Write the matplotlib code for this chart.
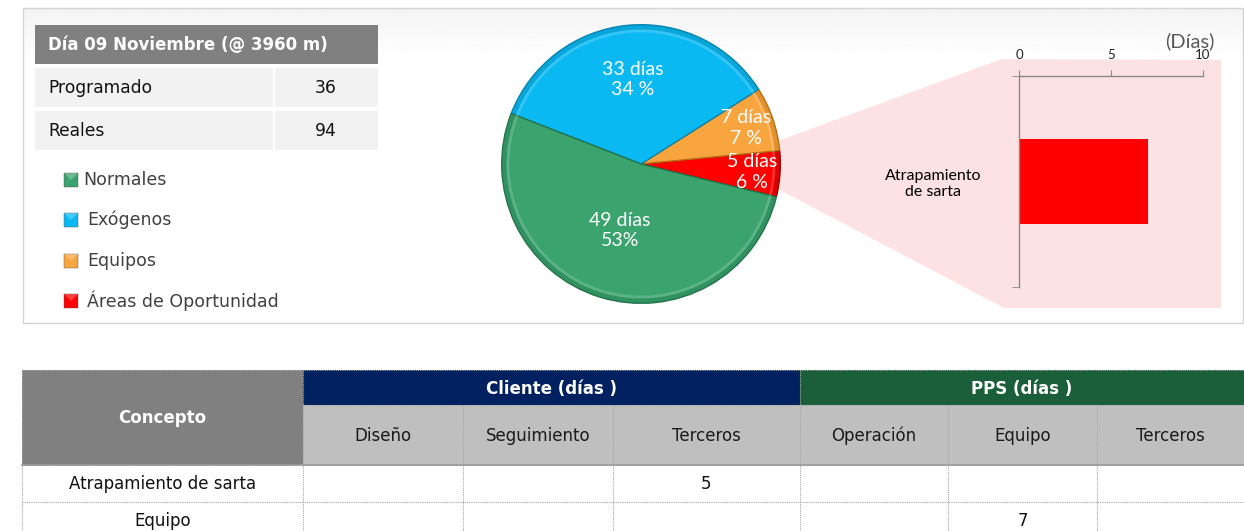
import numpy as np
import matplotlib
matplotlib.use("Agg")
import matplotlib.pyplot as plt
from matplotlib.patches import Rectangle, Polygon, Wedge

# ---------------- data ----------------
header_title = "Día 09 Noviembre (@ 3960 m)"
summary_labels = ["Programado", "Reales"]
summary_values = [36, 94]

categories = ["Normales", "Exógenos", "Equipos", "Áreas de Oportunidad"]
dias = [49, 33, 7, 5]
pct_labels = ["53%", "34 %", "7 %", "6 %"]
cat_colors = ["#3aa36e", "#0ab9f2", "#f9a53f", "#ff0000"]

bar_categories = ["Atrapamiento\nde sarta"]
bar_values = [7]
bar_ticks = [0, 5, 10]

group_headers = ["Cliente (días )", "PPS (días )"]
sub_headers = ["Diseño", "Seguimiento", "Terceros", "Operación", "Equipo", "Terceros"]
row_labels = ["Atrapamiento de sarta", "Equipo"]
table_values = [[None, None, 5, None, None, None],
                [None, None, None, None, 7, None]]

# ---------------- figure ----------------
W, H = 1244, 531
fig = plt.figure(figsize=(W / 100, H / 100), dpi=100)
bg = fig.add_axes([0, 0, 1, 1], zorder=0)
bg.set_xlim(0, W)
bg.set_ylim(H, 0)
bg.axis("off")

FONT = "DejaVu Sans"
FONT2 = "Lato"

# top panel
grad = np.linspace(0.955, 1.0, 50).reshape(-1, 1)
bg.imshow(grad, cmap="gray", vmin=0, vmax=1, extent=[24, 1243, 60, 9], aspect="auto", zorder=0)
bg.add_patch(Rectangle((23, 8), 1220, 315, facecolor="none", edgecolor="#d4d4d4", lw=1, zorder=1))

# summary table
bg.add_patch(Rectangle((35, 25), 343, 39, facecolor="#808080", edgecolor="none", zorder=2))
bg.text(48, 45, header_title, color="white", fontsize=12, fontweight="bold",
        family=FONT, va="center", ha="left", zorder=3)
row_tops = [68, 111]
for top, lab, val in zip(row_tops, summary_labels, summary_values):
    bg.add_patch(Rectangle((35, top), 238, 39, facecolor="#f2f2f2", edgecolor="none", zorder=2))
    bg.add_patch(Rectangle((275, top), 103, 39, facecolor="#f2f2f2", edgecolor="none", zorder=2))
    bg.text(48, top + 20, lab, fontsize=12.3, family=FONT, va="center", ha="left", color="#111111", zorder=3)
    bg.text(326, top + 20, str(val), fontsize=12.3, family=FONT, va="center", ha="center", color="#111111", zorder=3)

# legend
leg_y = [180, 220, 261, 301]
for y, lab, col in zip(leg_y, categories, cat_colors):
    bg.add_patch(Rectangle((64, y - 7), 14, 14, facecolor=col, edgecolor="#555555", lw=0.3, zorder=3))
    bg.add_patch(Polygon([(64, y - 7), (78, y - 7), (71, y)], closed=True,
                         facecolor="white", alpha=0.25, edgecolor="none", zorder=4))
    bg.text(83 if lab == "Normales" else 87, y, lab, fontsize=12.5, family=FONT,
            va="center", ha="left", color="#404040", zorder=3)

# zoom funnel (pink)
bg.add_patch(Polygon([(778, 141), (1002, 59), (1221, 60), (1221, 308), (1004, 308), (778, 189)],
                     closed=True, facecolor="#fde2e3", edgecolor="none", zorder=1))
bg.text(1190, 41, "(Días)", fontsize=14.5, family=FONT2, color="#595959", ha="center", va="center", zorder=3)

# ---------------- pie ----------------
cx, cy, R = 641, 164, 140
pie_ax = fig.add_axes([(cx - R) / W, (H - cy - R) / H, 2 * R / W, 2 * R / H], zorder=2)
pie_vals = dias[::-1]
pie_cols = cat_colors[::-1]
pie_txt = [f"{d} días\n{p}" for d, p in zip(dias, pct_labels)][::-1]
edge_cols = ["#a00000", "#b86e10", "#0785b0", "#23744b"]
wedges, _ = pie_ax.pie(pie_vals, colors=pie_cols, startangle=-13.6, counterclock=True,
                       radius=1.0, wedgeprops=dict(edgecolor="none"))
for w, ec in zip(wedges, edge_cols):
    w.set_edgecolor(ec)
    w.set_linewidth(1.0)
    # bevel rim
    pie_ax.add_patch(Wedge((0, 0), 1.0, w.theta1, w.theta2, width=0.035,
                           facecolor=ec, alpha=0.35, edgecolor="none"))
    pie_ax.add_patch(Wedge((0, 0), 0.965, w.theta1, w.theta2, width=0.02,
                           facecolor="white", alpha=0.18, edgecolor="none"))
dists = [0.8, 0.8, 0.61, 0.5]
for w, t, d in zip(wedges, pie_txt, dists):
    ang = np.deg2rad((w.theta1 + w.theta2) / 2)
    pie_ax.text(d * np.cos(ang), d * np.sin(ang), t, ha="center", va="center",
                color="white", fontsize=14, family=FONT2, linespacing=1.25)
pie_ax.set_xlim(-1.005, 1.005)
pie_ax.set_ylim(-1.005, 1.005)
pie_ax.set_aspect("auto")

# ---------------- bar (zoom) ----------------
x0, x1, y0, y1 = 1019, 1203, 76, 287
bar_ax = fig.add_axes([x0 / W, (H - y1) / H, (x1 - x0) / W, (y1 - y0) / H], zorder=2)
bar_ax.patch.set_alpha(0)
bar_ax.barh(range(len(bar_values)), bar_values, height=0.4, color="#ff0000")
bar_ax.set_xlim(0, 10)
bar_ax.set_ylim(0.5, -0.5)
bar_ax.xaxis.tick_top()
bar_ax.set_xticks(bar_ticks)
bar_ax.set_xticklabels([str(t) for t in bar_ticks], fontsize=9.5, family=FONT2, color="#222222")
bar_ax.tick_params(axis="x", length=4, color="#888888", pad=7)
bar_ax.set_yticks(range(len(bar_categories)))
bar_ax.set_yticklabels(bar_categories, fontsize=11.5, family=FONT2, ha="center", multialignment="center")
bar_ax.tick_params(axis="y", length=0, pad=62)
bar_ax.set_yticks([-0.5, 0.5], minor=True)
bar_ax.tick_params(axis="y", which="minor", length=5, color="#888888")
for s in ["right", "bottom"]:
    bar_ax.spines[s].set_visible(False)
for s in ["top", "left"]:
    bar_ax.spines[s].set_color("#888888")
    bar_ax.spines[s].set_linewidth(1)

# ---------------- bottom table ----------------
col_edges = [22, 303, 463, 613, 800, 948, 1097, 1244]
row_edges = [370, 405, 465, 502, 540]
grid_kw = dict(color="#a6a6a6", lw=0.8, ls=(0, (1, 1)), zorder=4)

# concepto
bg.add_patch(Rectangle((col_edges[0], row_edges[0]), col_edges[1] - col_edges[0],
                       row_edges[2] - row_edges[0], facecolor="#808080", edgecolor="none", zorder=2))
bg.text((col_edges[0] + col_edges[1]) / 2, 418, "Concepto", color="white", fontsize=12,
        fontweight="bold", family=FONT, ha="center", va="center", zorder=5)
# group headers
grp_spans = [(col_edges[1], col_edges[4]), (col_edges[4], col_edges[7])]
grp_cols = ["#002060", "#1a5e3a"]
for (a, b), lab, col in zip(grp_spans, group_headers, grp_cols):
    bg.add_patch(Rectangle((a, row_edges[0]), b - a, row_edges[1] - row_edges[0],
                           facecolor=col, edgecolor="none", zorder=2))
    bg.text((a + b) / 2, (row_edges[0] + row_edges[1]) / 2 + 1, lab, color="white", fontsize=12,
            fontweight="bold", family=FONT, ha="center", va="center", zorder=5)
# sub headers
for i, lab in enumerate(sub_headers):
    a, b = col_edges[i + 1], col_edges[i + 2]
    bg.add_patch(Rectangle((a, row_edges[1]), b - a, row_edges[2] - row_edges[1],
                           facecolor="#bfbfbf", edgecolor="none", zorder=2))
    bg.text((a + b) / 2, 436, lab, color="#1a1a1a", fontsize=12, family=FONT,
            ha="center", va="center", zorder=5)
# data rows
for r, lab in enumerate(row_labels):
    ya, yb = row_edges[r + 2], row_edges[r + 3]
    ym = ya + 19
    bg.text((col_edges[0] + col_edges[1]) / 2, ym, lab, color="#111111", fontsize=12, family=FONT,
            ha="center", va="center", zorder=5)
    for c, v in enumerate(table_values[r]):
        if v is not None:
            a, b = col_edges[c + 1], col_edges[c + 2]
            bg.text((a + b) / 2, ym, str(v), color="#111111", fontsize=12, family=FONT,
                    ha="center", va="center", zorder=5)
# grid lines
bg.plot([col_edges[0], col_edges[-1]], [row_edges[0], row_edges[0]], **grid_kw)
for y in row_edges[1:4]:
    x_start = col_edges[1] if y == row_edges[1] else col_edges[0]
    bg.plot([x_start, col_edges[-1]], [y, y], **grid_kw)
bg.plot([col_edges[0], col_edges[-1]], [row_edges[2], row_edges[2]], color="#9a9a9a", lw=1.2, zorder=4)
bg.plot([col_edges[0], col_edges[0]], [row_edges[0], H], **grid_kw)
for x in col_edges[1:-1]:
    top = row_edges[1] if x != col_edges[4] and x != col_edges[1] else row_edges[0]
    bg.plot([x, x], [top, H], **grid_kw)

fig.savefig("out.png", dpi=100)
